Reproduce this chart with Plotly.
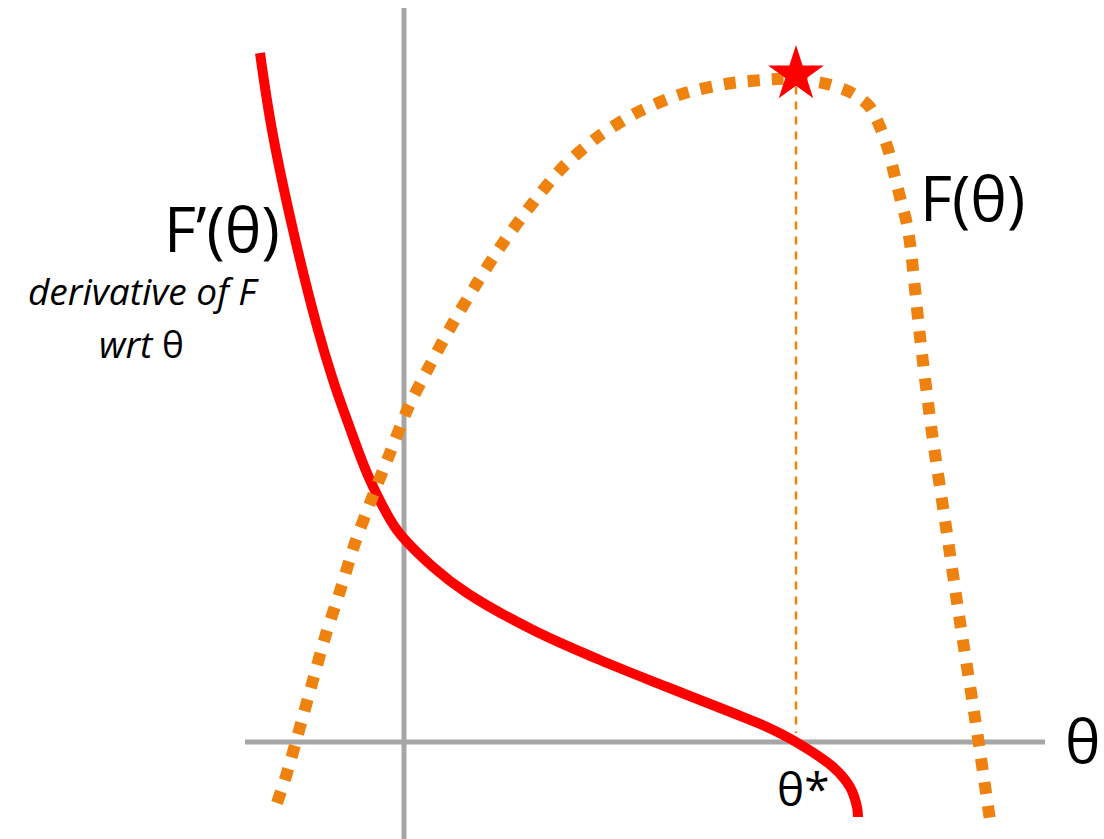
import plotly.graph_objects as go

# F'(theta): derivative curve (solid red)
red_theta = [-1.44, -1.32, -1.11, -0.86, -0.71, -0.57, -0.34, -0.07, 0.29, 0.63, 1.29,
             1.96, 2.63, 3.29, 3.63, 3.92, 4.29, 4.46, 4.53, 4.54]
red_value = [6.89, 6.12, 5.12, 4.12, 3.62, 3.22, 2.62, 2.12, 1.75, 1.49, 1.12,
             0.82, 0.55, 0.29, 0.15, 0.0, -0.25, -0.45, -0.65, -0.75]

# F(theta): objective curve (orange dotted)
orange_theta = [-1.27, -1.17, -1.04, -0.91, -0.78, -0.63, -0.49, -0.32, -0.14, 0.04,
                0.26, 0.49, 0.73, 0.99, 1.28, 1.59, 1.95, 2.36, 2.81, 3.28,
                3.74, 3.92, 4.23, 4.46, 4.65, 4.76, 4.84, 4.90, 4.96, 5.02,
                5.06, 5.16, 5.28, 5.42, 5.56, 5.71, 5.86]
orange_value = [-0.61, -0.31, 0.15, 0.62, 1.08, 1.54, 1.99, 2.44, 2.89, 3.34,
                3.77, 4.19, 4.59, 4.99, 5.38, 5.75, 6.06, 6.31, 6.49, 6.59,
                6.63, 6.63, 6.58, 6.50, 6.36, 6.15, 5.93, 5.69, 5.45, 5.22,
                4.99, 4.05, 3.09, 2.15, 1.20, 0.24, -0.78]

# maximiser of F
theta_star = 3.92
F_max = 6.675

# axis extents
x_axis_span = [-1.59, 6.41]
y_axis_span = [-0.97, 7.34]

GRAY = "#a6a6a6"
ORANGE = "#EF820F"
RED = "#FF0000"
FONT = "Open Sans"

fig = go.Figure()

# horizontal and vertical axes
fig.add_trace(go.Scatter(x=x_axis_span, y=[0, 0], mode="lines",
                         line=dict(color=GRAY, width=5), hoverinfo="skip"))
fig.add_trace(go.Scatter(x=[0, 0], y=y_axis_span, mode="lines",
                         line=dict(color=GRAY, width=5), hoverinfo="skip"))

# drop line from the maximum down to the theta axis
fig.add_trace(go.Scatter(x=[theta_star, theta_star], y=[F_max - 0.12, 0.09], mode="lines",
                         line=dict(color=ORANGE, width=2.5, dash="8px,7px"),
                         hoverinfo="skip"))

# derivative
fig.add_trace(go.Scatter(x=red_theta, y=red_value, mode="lines",
                         line=dict(color=RED, width=10, shape="spline", smoothing=1.0)))

# objective
fig.add_trace(go.Scatter(x=orange_theta, y=orange_value, mode="lines",
                         line=dict(color=ORANGE, width=12, dash="12px,12px",
                                   shape="spline", smoothing=0.8)))

# maximum marker
fig.add_trace(go.Scatter(x=[theta_star], y=[F_max], mode="markers",
                         marker=dict(symbol="star", size=42, color=RED,
                                     line=dict(width=0))))

annotations = [
    dict(x=-1.22, y=5.14, text="F’(θ)", xanchor="right", yanchor="middle",
         font=dict(size=62, family=FONT, color="black")),
    dict(x=-2.61, y=4.52, text="<i>derivative of F</i>", xanchor="center", yanchor="middle",
         font=dict(size=37, family=FONT, color="black")),
    dict(x=-2.63, y=3.99, text="<i>wrt</i> θ", xanchor="center", yanchor="middle",
         font=dict(size=37, family=FONT, color="black")),
    dict(x=5.14, y=5.45, text="F(θ)", xanchor="left", yanchor="middle",
         font=dict(size=62, family=FONT, color="black")),
    dict(x=6.78, y=0.02, text="θ", xanchor="center", yanchor="middle",
         font=dict(size=60, family=FONT, color="black")),
    dict(x=3.99, y=-0.46, text="θ*", xanchor="center", yanchor="middle",
         font=dict(size=46, family=FONT, color="black")),
]
for a in annotations:
    a.update(xref="x", yref="y", showarrow=False)

fig.update_layout(
    width=1104, height=839,
    margin=dict(l=0, r=0, t=0, b=0),
    paper_bgcolor="white", plot_bgcolor="white",
    showlegend=False,
    xaxis=dict(range=[-4.04, 7.00], visible=False, fixedrange=True),
    yaxis=dict(range=[-0.97, 7.42], visible=False, fixedrange=True),
    annotations=annotations,
)

fig.write_html("out.html")
